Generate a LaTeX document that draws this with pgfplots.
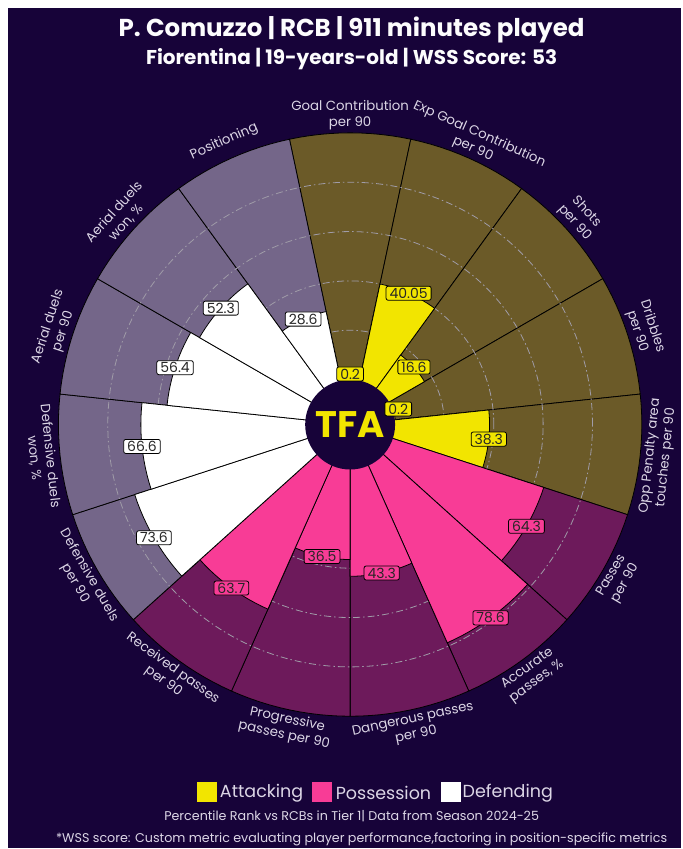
\documentclass[border=0pt]{standalone}
\usepackage{fontspec}
\setmainfont{Poppins}
\usepackage{pgfplots}
\pgfplotsset{compat=1.18}
\usepgfplotslibrary{polar}

\definecolor{bg}{HTML}{170339}
\definecolor{attbg}{HTML}{6B5A28}
\definecolor{posbg}{HTML}{6D1A5B}
\definecolor{defbg}{HTML}{746689}
\definecolor{attY}{HTML}{F2E500}
\definecolor{posP}{HTML}{F83C96}
\definecolor{defW}{HTML}{FFFFFF}
\definecolor{txt}{HTML}{DCD6E6}
\definecolor{gridc}{HTML}{A09CA8}

% one slice: start angle, percentile, style (24 degrees wide)
\newcommand\wedgeat[3]{%
  \pgfmathsetmacro\wr{#2+18.2}%
  \gdef\arcpts{}%
  \foreach \k in {0,...,12}{\pgfmathsetmacro\wa{#1+2*\k}\xdef\arcpts{\arcpts(\wa,\wr)}}%
  \edef\next{\noexpand\addplot[mark=none,draw=black,line width=0.8pt,\unexpanded{#3}] coordinates {(#1,0)\arcpts} --cycle;}%
  \next}
% value box: centre angle, percentile, colour, text
\newcommand\vlab[4]{%
  \pgfmathsetmacro\vr{max(#2+18.2,20.5)}%
  \edef\next{\noexpand\node[vbox,fill=#3] at (axis cs:#1,\vr) {#4};}%
  \next}
% outer label: centre angle, text
\newcommand\plab[2]{%
  \pgfmathparse{(#1>0 && #1<180) ? #1-90 : #1+90}\let\rot\pgfmathresult
  \edef\next{\noexpand\node[plabel,rotate=\rot] at (axis cs:#1,125.5) {\unexpanded{#2}};}%
  \next}

\begin{document}
\begin{tikzpicture}[x=1pt,y=1pt,
  vbox/.style={draw=black,line width=0.8pt,rounded corners=2pt,inner xsep=3.5pt,inner ysep=1.8pt,
    text=black!85,font=\fontsize{14}{14}\selectfont},
  plabel/.style={align=center,text=txt,font=\fontsize{13.3}{16}\selectfont},
  gridline/.style={gridc,line width=0.8pt,dash pattern=on 7pt off 3pt on 1.5pt off 3pt}]
\fill[white] (0,0) rectangle (682,849);
\fill[bg] (8,0) rectangle (682,841);
\begin{polaraxis}[at={(350.5pt,424pt)},anchor=center,scale only axis,width=584pt,height=584pt,
  xmin=0,xmax=360,ymin=0,ymax=118.2,hide axis,clip=false]
% background slices
\wedgeat{78}{100}{fill=attbg}
\wedgeat{54}{100}{fill=attbg}
\wedgeat{30}{100}{fill=attbg}
\wedgeat{6}{100}{fill=attbg}
\wedgeat{-18}{100}{fill=attbg}
\wedgeat{-42}{100}{fill=posbg}
\wedgeat{-66}{100}{fill=posbg}
\wedgeat{-90}{100}{fill=posbg}
\wedgeat{-114}{100}{fill=posbg}
\wedgeat{-138}{100}{fill=posbg}
\wedgeat{-162}{100}{fill=defbg}
\wedgeat{174}{100}{fill=defbg}
\wedgeat{150}{100}{fill=defbg}
\wedgeat{126}{100}{fill=defbg}
\wedgeat{102}{100}{fill=defbg}
% grid circles at 20/40/60/80
\draw[gridline] (axis cs:0,0) circle[radius=94.4pt];
\draw[gridline] (axis cs:0,0) circle[radius=143.8pt];
\draw[gridline] (axis cs:0,0) circle[radius=193.2pt];
\draw[gridline] (axis cs:0,0) circle[radius=242.6pt];
% bars
\wedgeat{78}{0.2}{fill=attY}
\wedgeat{54}{40.05}{fill=attY}
\wedgeat{30}{16.6}{fill=attY}
\wedgeat{6}{0.2}{fill=attY}
\wedgeat{-18}{38.3}{fill=attY}
\wedgeat{-42}{64.3}{fill=posP}
\wedgeat{-66}{78.6}{fill=posP}
\wedgeat{-90}{43.3}{fill=posP}
\wedgeat{-114}{36.5}{fill=posP}
\wedgeat{-138}{63.7}{fill=posP}
\wedgeat{-162}{73.6}{fill=defW}
\wedgeat{174}{66.6}{fill=defW}
\wedgeat{150}{56.4}{fill=defW}
\wedgeat{126}{52.3}{fill=defW}
\wedgeat{102}{28.6}{fill=defW}
% centre
\fill[bg] (axis cs:0,0) circle[radius=45pt];
\node[text=attY,font=\fontsize{37}{37}\selectfont\bfseries] at (axis cs:0,0) {TFA};
% values
\vlab{90}{0.2}{attY}{0.2}
\vlab{66}{40.05}{attY}{40.05}
\vlab{42}{16.6}{attY}{16.6}
\vlab{18}{0.2}{attY}{0.2}
\vlab{-6}{38.3}{attY}{38.3}
\vlab{-30}{64.3}{posP}{64.3}
\vlab{-54}{78.6}{posP}{78.6}
\vlab{-78}{43.3}{posP}{43.3}
\vlab{-102}{36.5}{posP}{36.5}
\vlab{-126}{63.7}{posP}{63.7}
\vlab{-150}{73.6}{defW}{73.6}
\vlab{186}{66.6}{defW}{66.6}
\vlab{162}{56.4}{defW}{56.4}
\vlab{138}{52.3}{defW}{52.3}
\vlab{114}{28.6}{defW}{28.6}
% parameter names
\plab{90}{Goal Contribution\\per 90}
\plab{66}{Exp Goal Contribution\\per 90}
\plab{42}{Shots\\per 90}
\plab{18}{Dribbles\\per 90}
\plab{-6}{Opp Penalty area\\touches per 90}
\plab{-30}{Passes\\per 90}
\plab{-54}{Accurate\\passes, \%}
\plab{-78}{Dangerous passes\\per 90}
\plab{-102}{Progressive\\passes per 90}
\plab{-126}{Received passes\\per 90}
\plab{-150}{Defensive duels\\per 90}
\plab{186}{Defensive duels\\won, \%}
\plab{162}{Aerial duels\\per 90}
\plab{138}{Aerial duels\\won, \%}
\plab{114}{Positioning}
\end{polaraxis}
% titles
\node[text=white!92!txt,font=\fontsize{24.5}{28}\selectfont\bfseries] at (352,819) {P. Comuzzo | RCB | 911 minutes played};
\node[text=white!92!txt,font=\fontsize{20}{23}\selectfont\bfseries] at (352,790) {Fiorentina | 19-years-old | WSS Score: 53};
% legend
\fill[attY] (197,46) rectangle (217,66);
\node[anchor=west,text=txt,font=\fontsize{17.5}{20}\selectfont,inner sep=0pt] at (220,55) {Attacking};
\fill[posP] (312,46) rectangle (332,66);
\node[anchor=west,text=txt,font=\fontsize{17.5}{20}\selectfont,inner sep=0pt] at (336,55) {Possession};
\fill[defW] (441,46) rectangle (461,66);
\node[anchor=west,text=txt,font=\fontsize{17.5}{20}\selectfont,inner sep=0pt] at (463,55) {Defending};
% footers
\node[text=txt,font=\fontsize{12.7}{14}\selectfont] at (352,32) {Percentile Rank vs RCBs in Tier 1| Data from Season 2024-25};
\node[text=txt,font=\fontsize{12.7}{14}\selectfont] at (362,9) {*WSS score: Custom metric evaluating player performance,factoring in position-specific metrics};
\end{tikzpicture}
\end{document}
